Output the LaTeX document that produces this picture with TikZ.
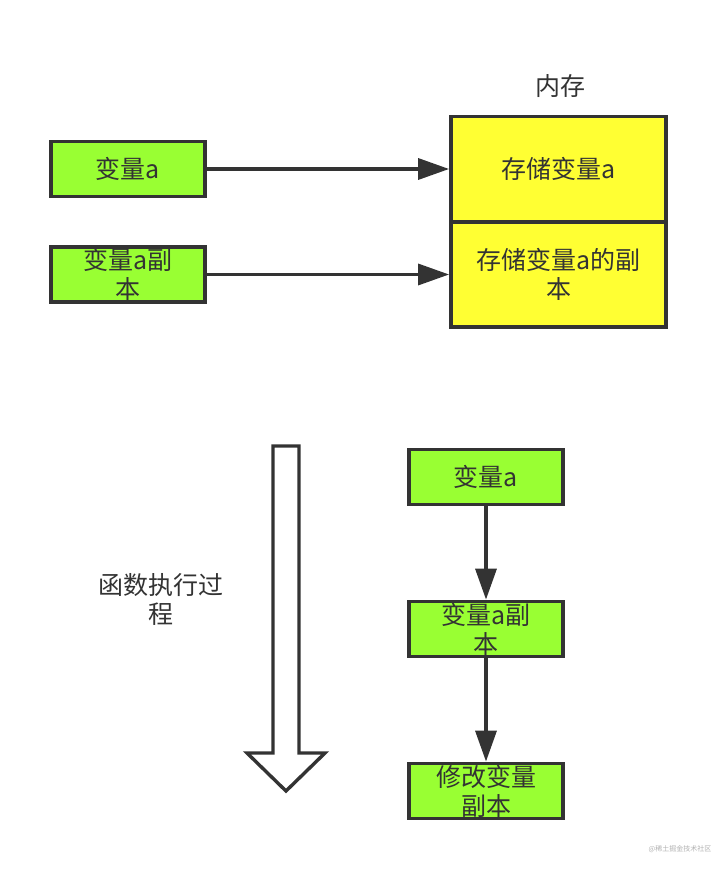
\documentclass[tikz,border=0pt]{standalone}
\usepackage{fontspec}
\newfontfamily\cjk{Noto Sans CJK SC}
\usetikzlibrary{arrows.meta,positioning}
\definecolor{boxgreen}{HTML}{99FF33}
\definecolor{boxyellow}{HTML}{FFFF33}
\definecolor{edge}{HTML}{333333}

\begin{document}
\begin{tikzpicture}[x=1pt, y=-1pt,
  every node/.style={font=\cjk\fontsize{25}{29}\selectfont, text=edge, align=center},
  varbox/.style={draw=edge, line width=3.8pt, fill=boxgreen, minimum width=154pt, minimum height=55pt, inner sep=0pt},
  membox/.style={draw=edge, line width=3.8pt, fill=boxyellow, minimum width=215pt, minimum height=105pt, inner sep=0pt},
  link/.style={draw=edge, line width=3.4pt, -{Triangle[length=31pt,width=21pt]}}
]
  \useasboundingbox[fill=white] (0,0) rectangle (718,870);

  % top: variables and memory cells
  \node[varbox] (var) at (128,169) {变量a};
  \node[varbox] (copy) at (128,274.5) {变量a副\\本};
  \node[membox] (cella) at (558.5,169) {存储变量a};
  \node[membox] (cellb) at (558.5,274.5) {存储变量a的副\\本};
  \node (mem) at (560,86) {内存};

  \draw[link] (var) -- (cella);
  \draw[link] (copy) -- (cellb);

  % bottom: call sequence
  \draw[draw=edge, line width=3.4pt, fill=white, line join=miter]
    (273,446) -- (299,446) -- (299,753) -- (325,753) -- (286,791)
    -- (247,753) -- (273,753) -- cycle;
  \node (run) at (161,599) {函数执行过\\程};

  \node[varbox] (stepa) at (486,477) {变量a};
  \node[varbox] (stepb) at (486,629) {变量a副\\本};
  \node[varbox] (stepc) at (486,791) {修改变量\\副本};

  \draw[link] (stepa) -- (stepb);
  \draw[link] (stepb) -- (stepc);

  \node[font=\cjk\fontsize{7}{8}\selectfont, text=gray!60] (mark) at (680,849) {@稀土掘金技术社区};
\end{tikzpicture}
\end{document}
